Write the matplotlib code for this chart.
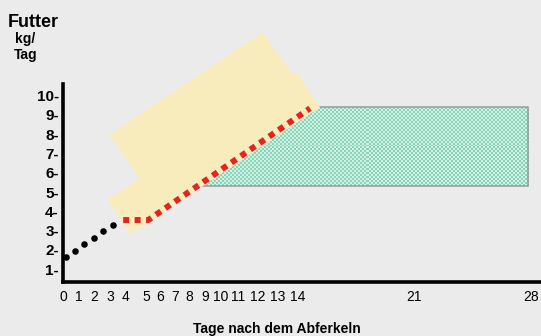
import numpy as np
import matplotlib
matplotlib.use("Agg")
import matplotlib.pyplot as plt
from matplotlib.patches import Polygon, Rectangle

plt.rcParams['font.family'] = ['Liberation Sans', 'DejaVu Sans']

# feed curve: first days (black dots), then the recommended ramp (red)
start_days = [0.18, 0.72, 1.27, 1.86, 2.41, 2.99]
start_feed = [1.65, 1.96, 2.29, 2.62, 2.97, 3.30]
ramp_days = [3.6, 5.1, 14.78]
ramp_feed = [3.55, 3.55, 9.34]

# target band after the ramp (kg/day)
band_days = [8.3, 27.83]
band_feed = [5.32, 9.41]

# yellow ranges drawn over the ramp (day, kg/day corners)
upper_range_days = [2.77, 11.95, 14.2, 5.02]
upper_range_feed = [7.96, 13.28, 10.52, 5.20]
lower_range_days = [2.65, 4.07, 15.38, 13.99]
lower_range_feed = [4.59, 2.81, 9.39, 11.19]

# axis ticks
x_ticks = [0, 0.96, 1.87, 2.81, 3.75, 5.0, 5.83, 6.7, 7.57, 8.53,
           9.45, 10.5, 11.64, 12.84, 14.03, 21, 28]
x_labels = ['0', '1', '2', '3', '4', '5', '6', '7', '8', '9',
            '10', '11', '12', '13', '14', '21', '28']
y_ticks = [1, 2, 3, 4, 5, 6, 7, 8, 9, 10]
y_labels = [f'{v}-' for v in y_ticks]

bg = '#ebebeb'
fig = plt.figure(figsize=(5.41, 3.36), dpi=100, facecolor=bg)
ax = fig.add_axes([63 / 541, 54 / 336, 1 - 63 / 541, 198 / 336])
ax.set_facecolor('none')

# checkered band
rows, cols = 40, 163
checker = (np.indices((rows, cols)).sum(axis=0) % 2).astype(float)
cmap = matplotlib.colors.ListedColormap(['#d6efe5', '#84d5b9'])
ax.imshow(checker, cmap=cmap, interpolation='nearest', aspect='auto',
          extent=(band_days[0], band_days[1], band_feed[0], band_feed[1]),
          zorder=1)
ax.add_patch(Rectangle((band_days[0], band_feed[0]), band_days[1] - band_days[0],
                       band_feed[1] - band_feed[0], fill=False,
                       edgecolor='#9a9a9a', lw=1.1, zorder=1.5))

# yellow ranges
for xs, ys in [(upper_range_days, upper_range_feed), (lower_range_days, lower_range_feed)]:
    ax.add_patch(Polygon(np.column_stack([xs, ys]), closed=True,
                         facecolor='#f8ecbc', edgecolor='none',
                         clip_on=False, zorder=2))

# curves
ax.plot(start_days, start_feed, 'o', color='black', ms=3.7, zorder=3, clip_on=False)
ax.plot(ramp_days, ramp_feed, color='#e52421', lw=4.3, dashes=(1, 0.92),
        dash_capstyle='butt', solid_joinstyle='miter', zorder=3)

ax.set_xlim(0, 28.6)
ax.set_ylim(0.34, 10.6)

for side in ['top', 'right']:
    ax.spines[side].set_visible(False)
for side in ['left', 'bottom']:
    ax.spines[side].set_linewidth(2.6)
    ax.spines[side].set_color('black')
    ax.spines[side].set_zorder(4)

ax.set_xticks(x_ticks)
ax.set_xticklabels(x_labels, fontsize=10)
ax.set_yticks(y_ticks)
ax.set_yticklabels(y_labels, fontsize=11, fontweight='bold')
ax.tick_params(axis='x', length=0, pad=6)
ax.tick_params(axis='y', length=0, pad=3)

fig.text(8 / 541, 1 - 26.7 / 336, 'Futter', fontsize=13, fontweight='bold',
         ha='left', va='baseline')
fig.text(25 / 541, 1 - 43.5 / 336, 'kg/', fontsize=10, fontweight='bold',
         ha='center', va='baseline')
fig.text(25.5 / 541, 1 - 59 / 336, 'Tag', fontsize=10, fontweight='bold',
         ha='center', va='baseline')
fig.text(277 / 541, 1 - 333 / 336, 'Tage nach dem Abferkeln', fontsize=10,
         fontweight='bold', ha='center', va='baseline')

fig.savefig('out.png', dpi=100, facecolor=bg)
